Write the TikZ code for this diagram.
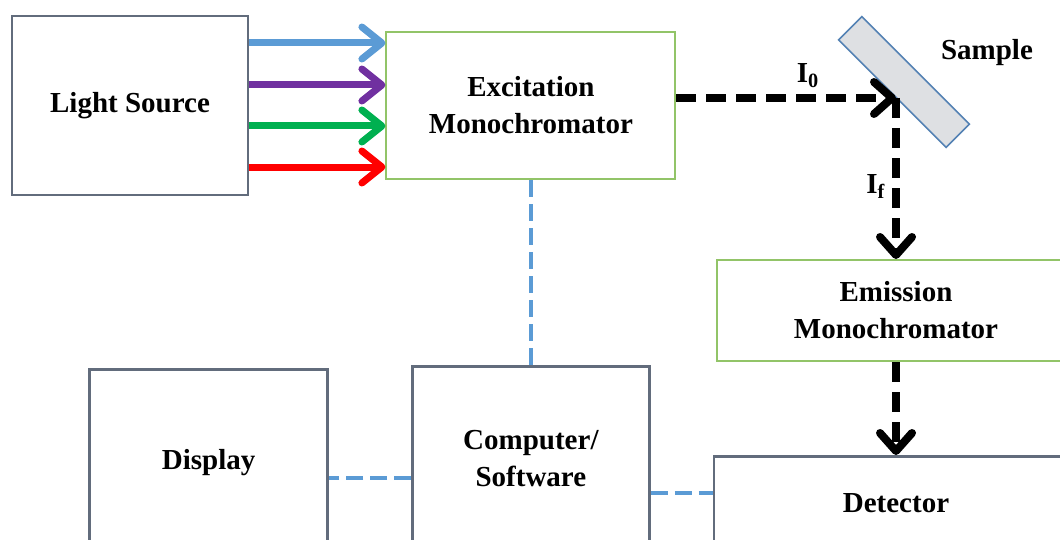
\documentclass[tikz,border=0pt]{standalone}
\usepackage{fontspec}
\setmainfont{Liberation Serif}
\usepackage{tikz}
\usetikzlibrary{arrows.meta}
\usetikzlibrary{positioning}
\definecolor{boxgray}{RGB}{98,108,124}
\definecolor{boxgreen}{RGB}{146,196,104}
\definecolor{linkblue}{RGB}{91,155,213}
\definecolor{beamblue}{RGB}{91,155,213}
\definecolor{beampurple}{RGB}{112,48,160}
\definecolor{beamgreen}{RGB}{0,176,80}
\definecolor{beamred}{RGB}{255,0,0}
\definecolor{samplegray}{RGB}{222,224,227}
\definecolor{sampleedge}{RGB}{84,130,180}
\tikzset{node distance=40pt, auto}
\tikzset{
  unit/.style={draw=boxgray, line width=1.4pt, fill=white, align=center,
    font=\bfseries\fontsize{14.5}{18.5}\selectfont},
  mono/.style={unit, draw=boxgreen, line width=1pt},
  lbl/.style={font=\bfseries\fontsize{14.5}{18.5}\selectfont},
  beam/.style={line width=3.5pt, -{Straight Barb[length=10pt,width=16pt,round]}},
  ray/.style={line width=4pt, dash pattern=on 10pt off 5pt,
    -{Straight Barb[length=9pt,width=16pt,round]}},
  link/.style={draw=linkblue, line width=2pt, dash pattern=on 8.5pt off 3.5pt}
}

\begin{document}
\begin{tikzpicture}[x=0.5pt, y=-0.5pt]
  \useasboundingbox (0,0) rectangle (1060,540);
  \clip (0,0) rectangle (1060,540);
  \node (src) [unit, minimum width=118pt, minimum height=89.5pt] at (130,105.5) {Light Source};
  \node (exc) [mono, right=68pt of src, minimum width=144.5pt, minimum height=73.5pt] {Excitation\\Monochromator};
  \node (comp) [unit, below=92.5pt of exc, minimum width=118.5pt, minimum height=92pt] {Computer/\\Software};
  \node (disp) [unit, left=41pt of comp, yshift=-2pt, minimum width=119pt, minimum height=93pt] {Display};
  \node (emi) [mono, minimum width=179pt, minimum height=50.5pt] at (896,310.5) {Emission\\Monochromator};
  \node (det) [unit, below=46.5pt of emi, minimum width=182pt, minimum height=47pt] {Detector};
  % sample slide
  \node (sample) [draw=sampleedge, fill=samplegray, line width=0.8pt, inner sep=0pt,
    minimum width=76pt, minimum height=16.5pt, rotate=-45] at (904,82) {};
  \node (samplelbl) [lbl] at (987,53) {Sample};
  \coordinate (hit) at (896,98);
  % light into the excitation monochromator
  \draw[beam, beamblue]   ([yshift=31.25pt]src.east)  to ([yshift=31.25pt]src.east -| exc.west);
  \draw[beam, beampurple] ([yshift=10.25pt]src.east)  to ([yshift=10.25pt]src.east -| exc.west);
  \draw[beam, beamgreen]  ([yshift=-10.25pt]src.east) to ([yshift=-10.25pt]src.east -| exc.west);
  \draw[beam, beamred]    ([yshift=-30.75pt]src.east) to ([yshift=-30.75pt]src.east -| exc.west);
  \draw[ray] (exc.east |- hit) to node[lbl, pos=0.6] {I\textsubscript{0}} (hit);
  \draw[ray] (hit) to node[lbl, swap, pos=0.55] {I\textsubscript{f}} (hit |- emi.north);
  \draw[ray] (emi.south) to (det.north);
  % data lines
  \coordinate (dl) at ([yshift=-10pt]comp.west);
  \coordinate (cl) at ([yshift=5pt]det.west);
  \draw[link] (exc.south) -- (comp.north);
  \draw[link] (dl) -- (dl -| disp.east);
  \draw[link] (comp.east |- cl) -- (cl);
\end{tikzpicture}
\end{document}
